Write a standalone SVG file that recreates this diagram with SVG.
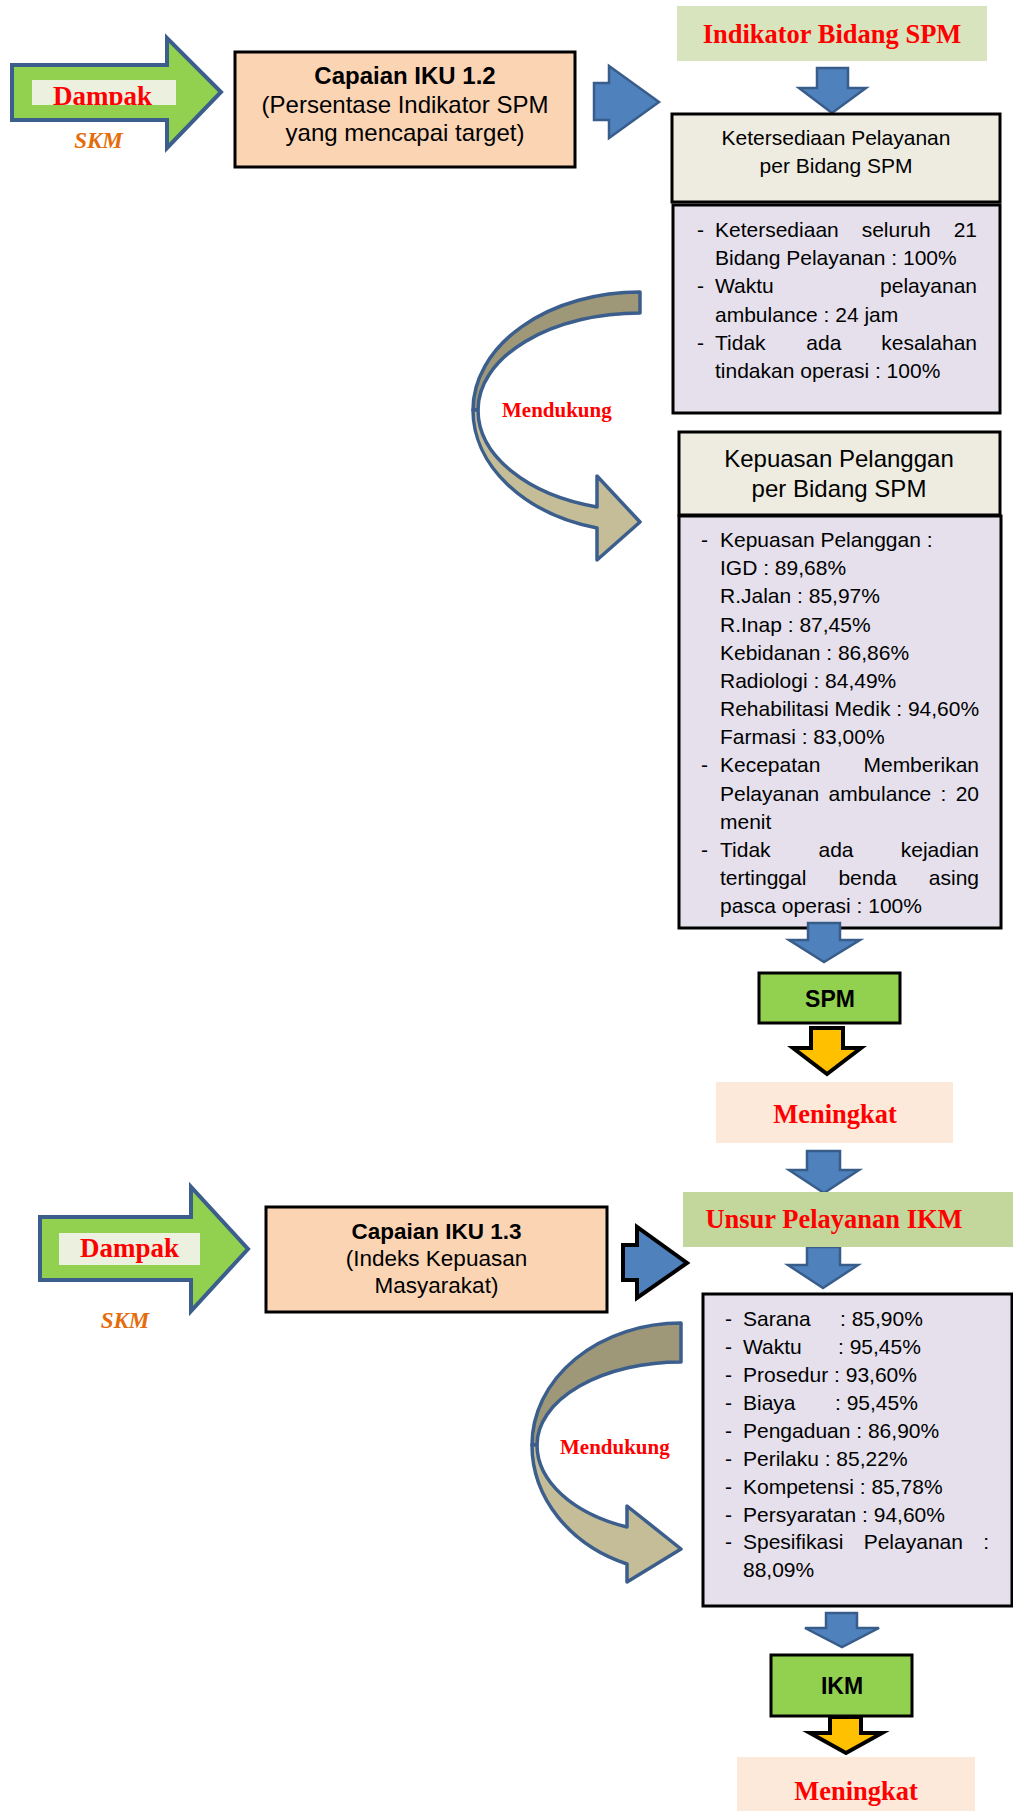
<svg xmlns="http://www.w3.org/2000/svg" width="1013" height="1811" viewBox="0 0 1013 1811">
<style>
.sans{font-family:"Liberation Sans",Arial,sans-serif;fill:#000}
.serif{font-family:"Liberation Serif","Times New Roman",serif;font-weight:bold}
.red{fill:#FF0000}
.box{stroke:#000;stroke-width:3}
.blue{fill:#4F81BD;stroke:#385D8A;stroke-width:2.5;stroke-linejoin:miter}
.yel{fill:#FFC000;stroke:#000;stroke-width:4;stroke-linejoin:miter}
.green{fill:#92D050;stroke:#3B5E8C;stroke-width:4;stroke-linejoin:miter}
.dark{fill:#9E9778;stroke:#3B5E8C;stroke-width:3.5;stroke-linejoin:round}
.light{fill:#C4BD97;stroke:#3B5E8C;stroke-width:3.5;stroke-linejoin:round}
.li{font-size:21px}
.skm{font-family:"Liberation Serif","Times New Roman",serif;font-weight:bold;font-style:italic;font-size:23px;fill:#E46C0A}
</style>
<defs>
<clipPath id="clipD1"><rect x="32" y="80" width="144" height="25"/></clipPath>
</defs>

<g id="connectors">
<polygon class="blue" points="594,83 609,83 609,66 659,102 609,138 609,120 594,120"/>
<polygon class="blue" points="817,68 848,68 848,88 866,88 832,113 799,88 817,88"/>
<path class="dark" d="M640,292 A167,118 0 0 0 473,410 L478,410 A162,97 0 0 1 640,313 Z"/>
<path class="light" d="M473,410 A167,122 0 0 0 597,528 L597,560 L640,522 L597,476 L597,507 A162,100.6 0 0 1 478,410 Z"/>
<polygon class="yel" points="811,1028 843,1028 843,1048 861,1048 827,1074 793,1048 811,1048"/>
<polygon class="blue" points="807,1151 840,1151 840,1170 859,1170 824,1193 789,1170 807,1170"/>
<polygon class="blue" points="807,1247 840,1247 840,1265 858,1265 823,1288 788,1265 807,1265"/>
<polygon points="623,1245 637,1245 637,1227 687,1263 637,1298 637,1280 623,1280" fill="#4F81BD" stroke="#000" stroke-width="4"/>
<path class="dark" d="M681,1323 A149,122 0 0 0 532,1445 L537,1445 A144,83 0 0 1 681,1362 Z"/>
<path class="light" d="M532,1445 A149,127.7 0 0 0 627,1564 L627,1582 L681,1549 L627,1506 L627,1527 A144,88.5 0 0 1 537,1445 Z"/>
<polygon class="blue" points="826,1613 857,1613 857,1628 879,1628 842,1647 805,1628 826,1628"/>
<polygon class="yel" points="830,1717 861,1717 861,1733 882,1733 846,1753 810,1733 830,1733"/>
</g>

<g id="dampak1">
<polygon class="green" points="12,65 167,65 167,38 221,92 167,148 167,120 12,120"/>
<rect x="32" y="80" width="144" height="25" fill="#EBF1DE"/>
<text class="serif red" x="102.5" y="105" font-size="27" text-anchor="middle" clip-path="url(#clipD1)">Dampak</text>
<text class="skm" x="98.5" y="148" text-anchor="middle">SKM</text>
</g>

<g id="capaian12">
<rect class="box" x="235" y="52" width="340" height="115" fill="#FBD4B4"/>
<text class="sans" x="405" y="84" font-size="24" font-weight="bold" text-anchor="middle">Capaian IKU 1.2</text>
<text class="sans" x="405" y="113" font-size="24" text-anchor="middle">(Persentase Indikator SPM</text>
<text class="sans" x="405" y="141" font-size="24" text-anchor="middle">yang mencapai target)</text>
</g>

<g id="indikator">
<rect x="677" y="6" width="310" height="55" fill="#D7E4BD"/>
<text class="serif red" x="832" y="43" font-size="26.5" text-anchor="middle">Indikator Bidang SPM</text>
</g>

<g id="ketersediaan">
<rect class="box" x="672" y="114" width="328" height="88" fill="#EEECE1"/>
<text class="sans li" x="836" y="145" text-anchor="middle">Ketersediaan Pelayanan</text>
<text class="sans li" x="836" y="173" text-anchor="middle">per Bidang SPM</text>
</g>

<g id="ketersediaan-list">
<rect class="box" x="673" y="205" width="327" height="208" fill="#E5E0EC"/>
<g class="sans li">
<text x="697" y="237">-</text><text x="715" y="237">Ketersediaan</text><text x="861.7" y="237">seluruh</text><text x="977" y="237" text-anchor="end">21</text>
<text x="715" y="265">Bidang Pelayanan : 100%</text>
<text x="697" y="293">-</text><text x="715" y="293">Waktu</text><text x="977" y="293" text-anchor="end">pelayanan</text>
<text x="715" y="322">ambulance : 24 jam</text>
<text x="697" y="350">-</text><text x="715" y="350">Tidak</text><text x="806.3" y="350">ada</text><text x="977" y="350" text-anchor="end">kesalahan</text>
<text x="715" y="378">tindakan operasi : 100%</text>
</g>
</g>

<g id="mendukung1">
<text class="serif red" x="502" y="417" font-size="21">Mendukung</text>
</g>

<g id="kepuasan">
<rect class="box" x="679" y="432" width="321" height="83" fill="#EEECE1"/>
<text class="sans" x="839" y="467" font-size="24" text-anchor="middle">Kepuasan Pelanggan</text>
<text class="sans" x="839" y="497" font-size="24" text-anchor="middle">per Bidang SPM</text>
</g>

<g id="kepuasan-list">
<rect class="box" x="679" y="516" width="322" height="412" fill="#E5E0EC"/>
<g class="sans li">
<text x="701" y="547">-</text><text x="720" y="547">Kepuasan Pelanggan :</text>
<text x="720" y="575">IGD : 89,68%</text>
<text x="720" y="603">R.Jalan : 85,97%</text>
<text x="720" y="632">R.Inap : 87,45%</text>
<text x="720" y="660">Kebidanan : 86,86%</text>
<text x="720" y="688">Radiologi : 84,49%</text>
<text x="720" y="716">Rehabilitasi Medik : 94,60%</text>
<text x="720" y="744">Farmasi : 83,00%</text>
<text x="701" y="772">-</text><text x="720" y="772">Kecepatan</text><text x="979" y="772" text-anchor="end">Memberikan</text>
<text x="720" y="801">Pelayanan</text><text x="828.5" y="801">ambulance</text><text x="940.5" y="801">:</text><text x="979" y="801" text-anchor="end">20</text>
<text x="720" y="829">menit</text>
<text x="701" y="857">-</text><text x="720" y="857">Tidak</text><text x="818.5" y="857">ada</text><text x="979" y="857" text-anchor="end">kejadian</text>
<text x="720" y="885">tertinggal</text><text x="838.4" y="885">benda</text><text x="979" y="885" text-anchor="end">asing</text>
<text x="720" y="913">pasca operasi : 100%</text>
</g>
</g>

<polygon class="blue" points="808,923 840,923 840,940 860,940 824,962 789,940 808,940"/>

<g id="spm">
<rect class="box" x="759" y="973" width="141" height="50" fill="#92D050"/>
<text class="sans" x="830" y="1007" font-size="23" font-weight="bold" text-anchor="middle">SPM</text>
</g>

<g id="meningkat1">
<rect x="716" y="1082" width="237" height="61" fill="#FDE9D9"/>
<text class="serif red" x="835" y="1123" font-size="26.5" text-anchor="middle">Meningkat</text>
</g>

<g id="dampak2">
<polygon class="green" points="40,1217 191,1217 191,1187 248,1249 191,1311 191,1280 40,1280"/>
<rect x="59" y="1233" width="141" height="32" fill="#EBF1DE"/>
<text class="serif red" x="129.5" y="1257" font-size="27" text-anchor="middle">Dampak</text>
<text class="skm" x="125" y="1328" text-anchor="middle">SKM</text>
</g>

<g id="capaian13">
<rect class="box" x="266" y="1207" width="341" height="105" fill="#FBD4B4"/>
<text class="sans" x="436.5" y="1239" font-size="22.5" font-weight="bold" text-anchor="middle">Capaian IKU 1.3</text>
<text class="sans" x="436.5" y="1266" font-size="22.5" text-anchor="middle">(Indeks Kepuasan</text>
<text class="sans" x="436.5" y="1293" font-size="22.5" text-anchor="middle">Masyarakat)</text>
</g>

<g id="unsur">
<rect x="683" y="1192" width="330" height="55" fill="#C3D69B"/>
<text class="serif red" x="834" y="1228" font-size="26.5" text-anchor="middle">Unsur Pelayanan IKM</text>
</g>

<g id="ikm-list">
<rect class="box" x="703" y="1294" width="309" height="312" fill="#E5E0EC"/>
<g class="sans li">
<text x="725" y="1326">-</text><text x="743" y="1326">Sarana</text><text x="840" y="1326">: 85,90%</text>
<text x="725" y="1354">-</text><text x="743" y="1354">Waktu</text><text x="838" y="1354">: 95,45%</text>
<text x="725" y="1382">-</text><text x="743" y="1382">Prosedur : 93,60%</text>
<text x="725" y="1410">-</text><text x="743" y="1410">Biaya</text><text x="835" y="1410">: 95,45%</text>
<text x="725" y="1438">-</text><text x="743" y="1438">Pengaduan : 86,90%</text>
<text x="725" y="1466">-</text><text x="743" y="1466">Perilaku : 85,22%</text>
<text x="725" y="1494">-</text><text x="743" y="1494">Kompetensi : 85,78%</text>
<text x="725" y="1522">-</text><text x="743" y="1522">Persyaratan : 94,60%</text>
<text x="725" y="1549">-</text><text x="743" y="1549">Spesifikasi</text><text x="863.7" y="1549">Pelayanan</text><text x="989" y="1549" text-anchor="end">:</text>
<text x="743" y="1577">88,09%</text>
</g>
</g>

<g id="mendukung2">
<text class="serif red" x="560" y="1454" font-size="21">Mendukung</text>
</g>

<g id="ikm">
<rect class="box" x="771" y="1655" width="141" height="61" fill="#92D050"/>
<text class="sans" x="842" y="1694" font-size="23" font-weight="bold" text-anchor="middle">IKM</text>
</g>

<g id="meningkat2">
<rect x="737" y="1757" width="238" height="54" fill="#FDE9D9"/>
<text class="serif red" x="856" y="1800" font-size="26.5" text-anchor="middle">Meningkat</text>
</g>
</svg>
